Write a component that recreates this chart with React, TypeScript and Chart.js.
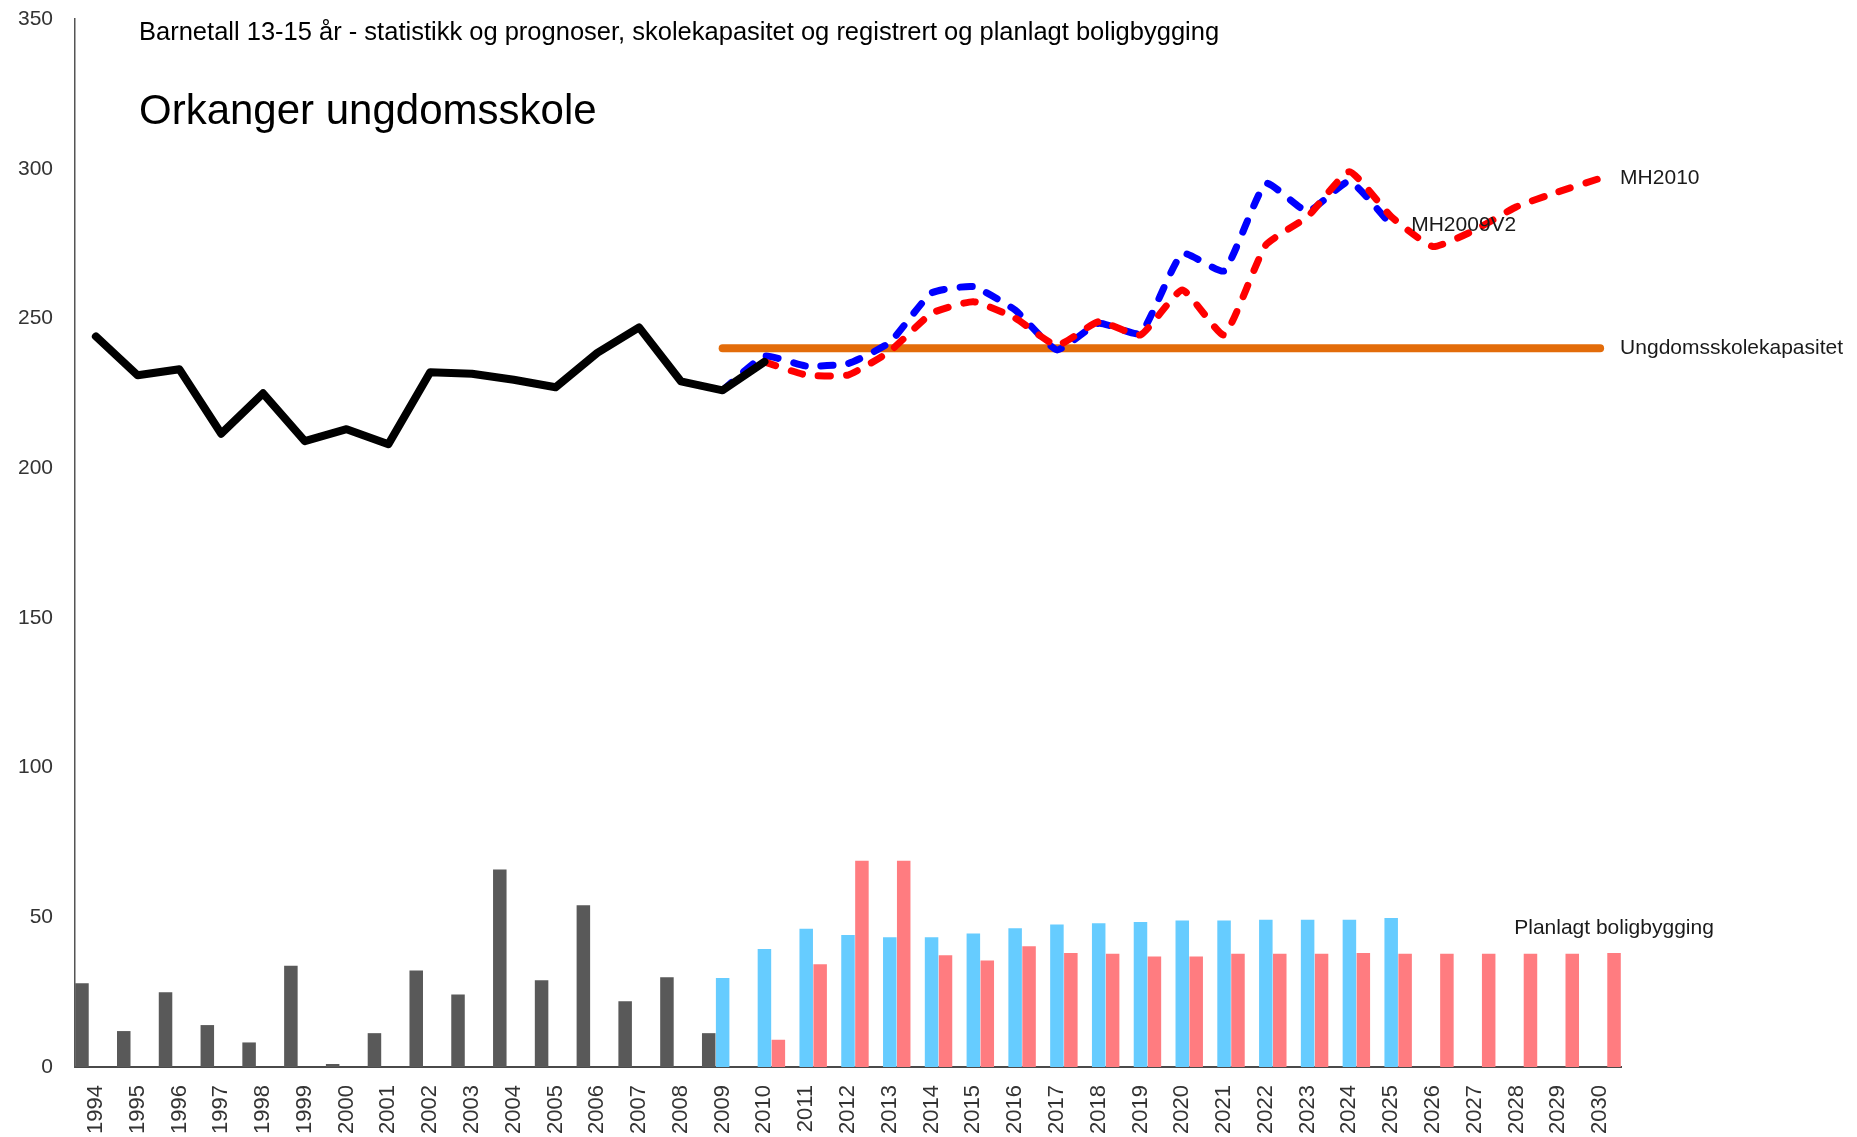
import React, { useEffect, useRef } from "react";
import { Chart, registerables } from "chart.js";

Chart.register(...registerables);

const FONT = "'Liberation Sans', Arial, sans-serif";

const titleText =
  "Barnetall 13-15 år - statistikk og prognoser, skolekapasitet og registrert og planlagt boligbygging";
const subtitleText = "Orkanger ungdomsskole";

const years = [
  "1994", "1995", "1996", "1997", "1998", "1999", "2000", "2001", "2002", "2003",
  "2004", "2005", "2006", "2007", "2008", "2009", "2010", "2011", "2012", "2013",
  "2014", "2015", "2016", "2017", "2018", "2019", "2020", "2021", "2022", "2023",
  "2024", "2025", "2026", "2027", "2028", "2029", "2030",
];

// Children 13-15, statistics 1994-2010
const statStart = 1994;
const statistikk = [
  244, 231, 233, 211.5, 225, 209, 213, 208, 232, 231.5, 229.5, 227, 238.5, 247, 229, 226, 235.5,
];

// Prognosis MH2009V2, 2009-2025
const mh2009Start = 2009;
const mh2009v2 = [
  226, 237.4, 234.1, 234.9, 242, 258.5, 260.6, 252.8, 239.5, 248.4, 245, 271.7, 265.9, 295.1,
  285.7, 295.8, 281.2,
];

// Prognosis MH2010, 2010-2030
const mh2010Start = 2010;
const mh2010 = [
  235.5, 231.1, 231.1, 239, 251.7, 255.6, 250.1, 241, 248.9, 244.5, 259.5, 244.5, 274.5, 284,
  299, 284, 274, 279.5, 287.3, 292.3, 296.8,
];

// School capacity 2009-2030
const kapasitetStart = 2009;
const kapasitet = [
  240, 240, 240, 240, 240, 240, 240, 240, 240, 240, 240, 240, 240, 240, 240, 240, 240, 240, 240,
  240, 240, 240,
];

// Registered housing construction 1994-2009
const regStart = 1994;
const registrertBolig = [
  28, 12, 25, 14, 8.2, 33.8, 1, 11.3, 32.2, 24.2, 66, 29, 54, 22, 30, 11.3,
];

// Planned housing (MH2009V2 basis) 2009-2025
const plan2009Start = 2009;
const planlagt2009 = [
  29.7, 39.4, 46.2, 44.1, 43.3, 43.3, 44.6, 46.3, 47.6, 48.0, 48.4, 48.9, 48.9, 49.2, 49.2, 49.2,
  49.8,
];

// Planned housing (MH2010 basis) 2010-2030
const plan2010Start = 2010;
const planlagt2010 = [
  9.1, 34.3, 68.9, 68.9, 37.3, 35.6, 40.3, 38.1, 37.8, 36.9, 36.9, 37.8, 37.8, 37.8, 38.1, 37.8,
  37.8, 37.8, 37.8, 37.8, 38.1,
];

const yTicks = [0, 50, 100, 150, 200, 250, 300, 350];

const pad = (start: number, vals: number[]) =>
  years.map((y) => {
    const i = Number(y) - start;
    return i >= 0 && i < vals.length ? vals[i] : null;
  });

const textPlugin = {
  id: "texts",
  afterDraw(chart: any) {
    const ctx = chart.ctx as CanvasRenderingContext2D;
    const left = chart.chartArea.left;
    ctx.save();
    ctx.fillStyle = "#000";
    ctx.textAlign = "left";
    ctx.textBaseline = "middle";
    ctx.font = `25.5px ${FONT}`;
    ctx.fillText(titleText, left + 64, 33);
    ctx.font = `42px ${FONT}`;
    ctx.fillText(subtitleText, left + 64, 112);

    ctx.font = `21px ${FONT}`;
    ctx.fillStyle = "#1a1a1a";
    chart.data.datasets.forEach((ds: any, i: number) => {
      const lbl = ds.endLabel;
      if (!lbl) return;
      let last = -1;
      ds.data.forEach((v: any, j: number) => {
        if (v != null) last = j;
      });
      if (last < 0) return;
      const el = chart.getDatasetMeta(i).data[last];
      if (!el) return;
      if (ds.type === "line") {
        ctx.textAlign = "left";
        ctx.textBaseline = "middle";
        ctx.fillText(lbl, el.x + 20, el.y);
      } else {
        ctx.textAlign = "center";
        ctx.textBaseline = "alphabetic";
        ctx.fillText(lbl, el.x, el.y - 19);
      }
    });
    ctx.restore();
  },
};

export default function App() {
  const ref = useRef<HTMLCanvasElement | null>(null);

  useEffect(() => {
    if (!ref.current) return;
    const lineBase = {
      type: "line" as const,
      pointRadius: 0,
      pointHoverRadius: 0,
      fill: false,
      spanGaps: false,
      borderCapStyle: "round" as const,
      borderJoinStyle: "round" as const,
    };
    const chart = new Chart(ref.current, {
      type: "bar",
      data: {
        labels: years,
        datasets: [
          {
            ...lineBase,
            label: "Statistikk",
            data: pad(statStart, statistikk),
            borderColor: "#000000",
            borderWidth: 8,
            tension: 0,
            order: 0,
          } as any,
          {
            ...lineBase,
            label: "MH2010",
            endLabel: "MH2010",
            data: pad(mh2010Start, mh2010),
            borderColor: "#FF0000",
            borderWidth: 7,
            borderDash: [12, 16],
            tension: 0.15,
            order: 1,
          } as any,
          {
            ...lineBase,
            label: "MH2009V2",
            endLabel: "MH2009V2",
            data: pad(mh2009Start, mh2009v2),
            borderColor: "#0000FF",
            borderWidth: 7,
            borderDash: [12, 16],
            tension: 0.15,
            order: 2,
          } as any,
          {
            ...lineBase,
            label: "Ungdomsskolekapasitet",
            endLabel: "Ungdomsskolekapasitet",
            data: pad(kapasitetStart, kapasitet),
            borderColor: "#E36C0A",
            borderWidth: 8,
            tension: 0,
            order: 3,
          } as any,
          {
            type: "bar",
            label: "Registrert boligbygging",
            data: pad(regStart, registrertBolig),
            backgroundColor: "#595959",
            order: 4,
          } as any,
          {
            type: "bar",
            label: "Planlagt boligbygging MH2009V2",
            data: pad(plan2009Start, planlagt2009),
            backgroundColor: "#66CCFF",
            order: 5,
          } as any,
          {
            type: "bar",
            label: "Planlagt boligbygging",
            endLabel: "Planlagt boligbygging",
            data: pad(plan2010Start, planlagt2010),
            backgroundColor: "#FF7C80",
            order: 6,
          } as any,
        ],
      },
      options: {
        animation: false,
        responsive: true,
        maintainAspectRatio: false,
        layout: { padding: { left: 0, right: 236, top: 19, bottom: 0 } },
        datasets: {
          bar: { categoryPercentage: 1, barPercentage: 0.97 },
        },
        plugins: {
          legend: { display: false },
          title: { display: false },
          tooltip: { enabled: false },
        },
        scales: {
          x: {
            offset: true,
            grid: { display: false, drawTicks: false },
            border: { display: true, color: "#4a4a4a", width: 2 },
            ticks: {
              minRotation: 90,
              maxRotation: 90,
              autoSkip: false,
              padding: 18,
              color: "#333333",
              font: { family: FONT, size: 22 },
            },
            afterFit: (axis: any) => {
              axis.height = 70;
              axis.paddingLeft = 0;
              axis.paddingRight = 0;
            },
          },
          y: {
            min: 0,
            max: 350,
            afterBuildTicks: (axis: any) => {
              axis.ticks = yTicks.map((v) => ({ value: v }));
            },
            grid: { display: false, drawTicks: false },
            border: { display: true, color: "#555555", width: 1.5 },
            ticks: {
              padding: 22,
              color: "#333333",
              font: { family: FONT, size: 21 },
            },
            afterFit: (axis: any) => {
              axis.width = 75;
              axis.paddingTop = 0;
              axis.paddingBottom = 0;
            },
          },
        },
      },
      plugins: [textPlugin],
    });
    return () => chart.destroy();
  }, []);

  return (
    <div style={{ position: "fixed", left: 0, top: 0, width: 1857, height: 1137, background: "#fff" }}>
      <canvas ref={ref} />
    </div>
  );
}
